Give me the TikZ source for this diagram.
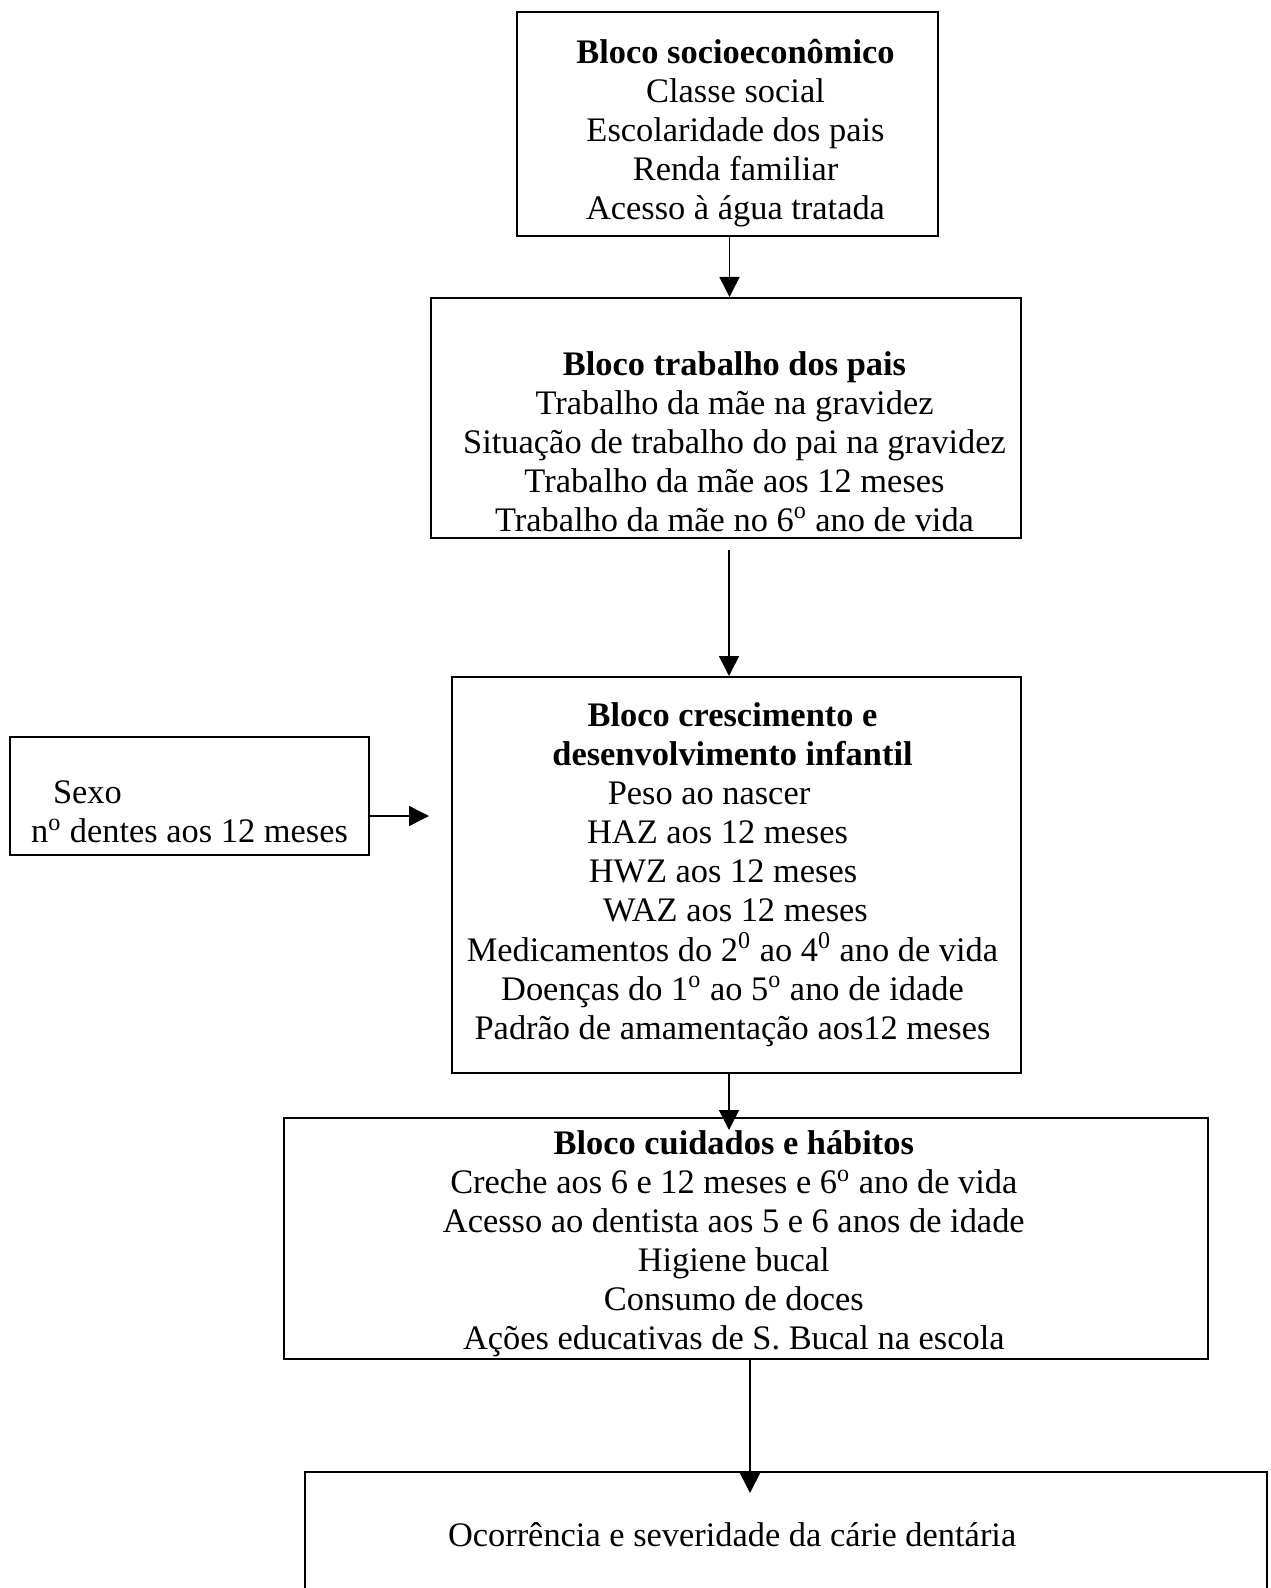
\documentclass[tikz,border=0pt]{standalone}
\usepackage{fontspec}
\setmainfont{Liberation Serif}
\usetikzlibrary{arrows.meta, positioning, calc}

\begin{document}
\begin{tikzpicture}[x=0.5pt, y=-0.5pt,
  bloco/.style={rectangle, draw, line width=1pt, align=center, inner sep=0pt, font=\fontsize{17.2}{19.5}\selectfont},
  seta/.style={-{Triangle[length=10pt, width=10pt]}, line width=0.75pt}
]
\useasboundingbox (0,0) rectangle (1270,1588);
\clip (0,0) rectangle (1270,1588);

\node[bloco, minimum width=210.5pt, minimum height=112pt, anchor=north] (socio) at (727.5,11) {\begin{tabular}{@{\hspace{8pt}}c@{}}
  \\[-9.4pt]
  \textbf{Bloco socioeconômico}\\Classe social\\Escolaridade dos pais\\Renda familiar\\Acesso à água tratada
\end{tabular}};
\node[bloco, minimum width=295pt, minimum height=120pt, below=30pt of socio, xshift=-0.75pt] (trabalho) {\begin{tabular}{@{\hspace{8.5pt}}c@{}}
  \\[4.9pt]
  \textbf{Bloco trabalho dos pais}\\Trabalho da mãe na gravidez\\Situação de trabalho do pai na gravidez\\Trabalho da mãe aos 12 meses\\Trabalho da mãe no 6\textsuperscript{o} ano de vida\\[-3pt]
\end{tabular}};
\node[bloco, minimum width=284.5pt, minimum height=198pt, below=68.5pt of trabalho, xshift=5.25pt] (cresc) {\begin{tabular}{@{}c@{\hspace{4pt}}}
  \textbf{Bloco crescimento e}\\\textbf{desenvolvimento infantil}\\
  Peso ao nascer\rule{23.5pt}{0pt}\\HAZ aos 12 meses\rule{15pt}{0pt}\\HWZ aos 12 meses\rule{9.5pt}{0pt}\\\rule{3pt}{0pt}WAZ aos 12 meses\\
  Medicamentos do 2\textsuperscript{0} ao 4\textsuperscript{0} ano de vida\\Doenças do 1\textsuperscript{o} ao 5\textsuperscript{o} ano de idade\\Padrão de amamentação aos12 meses
\end{tabular}};
\node[bloco, align=left, minimum width=179.5pt, minimum height=59pt, left=40.5pt of cresc, yshift=39.5pt] (sexo) {\mbox{}\\[8pt]\hspace*{11pt}Sexo\\n\textsuperscript{o} dentes aos 12 meses};
\node[bloco, minimum width=462pt, minimum height=120.5pt, below=21.5pt of cresc, xshift=4.75pt] (cuidados) {\begin{tabular}{@{}c@{\hspace{12.2pt}}}
  \\[-15pt]
  \textbf{Bloco cuidados e hábitos}\\Creche aos 6 e 12 meses e 6\textsuperscript{o} ano de vida\\Acesso ao dentista aos 5 e 6 anos de idade\\Higiene bucal\\Consumo de doces\\Ações educativas de S. Bucal na escola\\[-1.5pt]
\end{tabular}};
\node[bloco, inner xsep=71.5pt, minimum height=63pt, anchor=north west] (desfecho) at (304,1471) {\makebox[338pt][l]{Ocorrência e severidade da cárie dentária}};

\coordinate (a1) at ($(socio.south)+(2,0)$);
\coordinate (a2) at ($(trabalho.south)+(3,0)$);
\coordinate (a3) at ($(cresc.south)+(-7.5,0)$);
\coordinate (a4) at ($(cuidados.south)+(4,0)$);
\coordinate (a5) at ($(sexo.east)+(0,20)$);

\draw[seta] (a1) -- (a1 |- trabalho.north);
\draw[seta, shorten <=5.5pt] (a2) -- (a2 |- cresc.north);
\draw[seta, shorten >=-6.5pt] (a3) -- (a3 |- cuidados.north);
\draw[seta, shorten >=-11pt] (a4) -- (a4 |- desfecho.north);
\draw[seta, shorten >=11pt] (a5) -- (a5 -| cresc.west);
\end{tikzpicture}
\end{document}
